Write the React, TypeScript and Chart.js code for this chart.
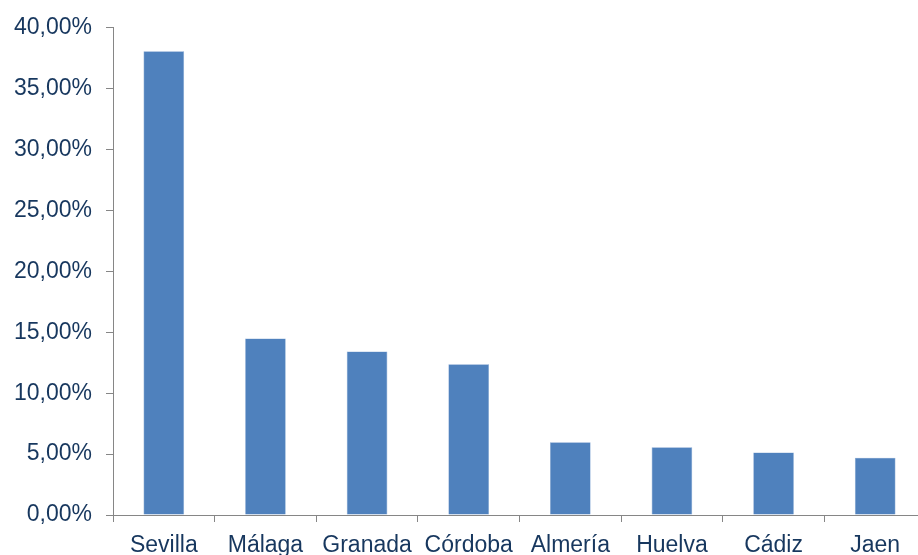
import React, { useEffect, useRef } from "react";
import { Chart, registerables } from "chart.js";

Chart.register(...registerables);

const categories = ["Sevilla", "Málaga", "Granada", "Córdoba", "Almería", "Huelva", "Cádiz", "Jaen"];
const values = [38.07, 14.49, 13.43, 12.37, 5.98, 5.57, 5.14, 4.7];
const yMax = 40;
const yStep = 5;

const TEXT = "#17375E";
const AXIS = "#868686";
const BAR = "#4F81BD";
const FONT = "'Liberation Sans', Arial, sans-serif";

export default function App() {
  const ref = useRef<HTMLCanvasElement | null>(null);
  useEffect(() => {
    document.body.style.margin = "0";
    document.body.style.overflow = "hidden";
    const canvas = ref.current!;
    const chart = new Chart(canvas, {
      type: "bar",
      data: {
        labels: categories,
        datasets: [
          {
            data: values,
            backgroundColor: BAR,
            borderColor: "#7FA2CF",
            borderWidth: 0.6,
            barPercentage: 0.4,
            categoryPercentage: 1,
          },
        ],
      },
      options: {
        animation: false,
        responsive: false,
        devicePixelRatio: 1,
        layout: { padding: { top: 24, left: 0, right: 0, bottom: 0 } },
        plugins: { legend: { display: false }, tooltip: { enabled: false } },
        scales: {
          x: {
            offset: true,
            grid: { display: true, drawOnChartArea: false, drawTicks: true, tickLength: 7, color: AXIS, offset: true },
            border: { color: AXIS, width: 1 },
            ticks: { color: TEXT, font: { family: FONT, size: 23 }, padding: 10, maxRotation: 0, autoSkip: false },
            afterFit: (s: any) => { s.height = 40; },
          },
          y: {
            min: 0,
            max: yMax,
            grid: { display: true, drawOnChartArea: false, drawTicks: true, tickLength: 7, color: AXIS },
            border: { color: AXIS, width: 1 },
            ticks: {
              stepSize: yStep,
              color: TEXT,
              padding: 14,
              font: { family: FONT, size: 23 },
              callback: (v: any) => Number(v).toFixed(2).replace(".", ",") + "%",
            },
            afterFit: (s: any) => { s.width = 113; },
          },
        },
      },
    });
    return () => chart.destroy();
  }, []);
  return (
    <div style={{ position: "absolute", left: 0, top: 0, width: 930, height: 555 }}>
      <canvas ref={ref} width={926} height={555} style={{ display: "block" }} />
    </div>
  );
}
